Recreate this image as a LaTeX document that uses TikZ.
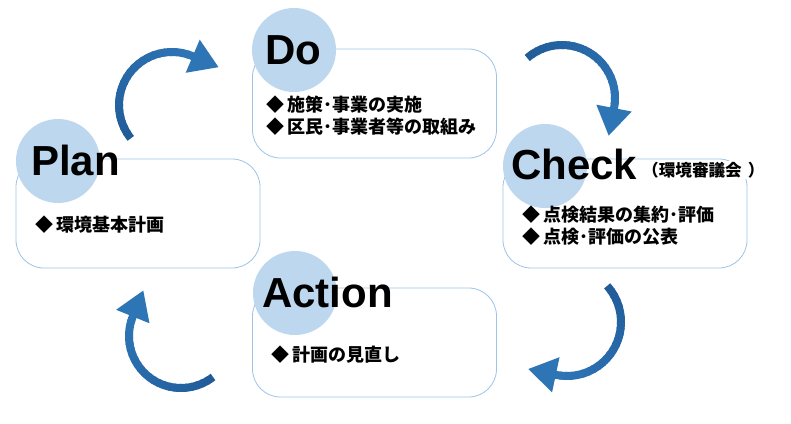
\documentclass[tikz,border=0pt]{standalone}
\usepackage{fontspec}
\setmainfont{Liberation Sans}
\newfontfamily\jp{Noto Sans CJK JP}
\usetikzlibrary{calc}
\definecolor{boxline}{HTML}{9DC3E6}
\definecolor{circfill}{HTML}{BDD7EE}
\definecolor{arrowdark}{HTML}{215C99}
\definecolor{arrowlight}{HTML}{2E75B6}
\newcommand\dia{◆\hspace{3.5pt}}
% cycle arrow: #1 name, #2 centre, #3 start angle, #4 end angle, #5 radius
\newcommand\cycarrow[5]{%
  \coordinate (#1) at (#2);
  \foreach \k in {0,...,23}{%
    \pgfmathsetmacro\sa{#3+(#4-#3)*\k/24}%
    \pgfmathsetmacro\ea{#3+(#4-#3)*(\k+1.3)/24}%
    \pgfmathsetmacro\mix{100-\k*100/23}%
    \draw[cycseg, color=arrowdark!\mix!arrowlight] (#1) ++(\sa:#5) arc[start angle=\sa, end angle=\ea, radius=#5];
  }%
  \fill[arrowlight] ($(#1)+(#4:#5+18)$) -- ($(#1)+(#4:#5-18)$) -- ($(#1)+(#4:#5)+(#4+90:28)$) -- cycle;
}
\begin{document}
\begin{tikzpicture}[x=1pt,y=-1pt,
  stagebox/.style={draw=boxline, line width=0.8pt, rounded corners=28pt, minimum width=244pt, minimum height=109pt, inner sep=0pt},
  badge/.style={circle, fill=circfill, minimum size=84pt, inner sep=0pt},
  title/.style={anchor=base west, inner sep=0pt, font=\fontsize{42}{42}\selectfont\bfseries},
  item/.style={anchor=west, inner sep=0pt, font=\jp\fontsize{18}{22}\selectfont\bfseries},
  sub/.style={anchor=west, inner sep=1pt, fill=white, font=\jp\fontsize{16.6}{18}\selectfont\bfseries},
  cycseg/.style={line width=8pt}
]
\useasboundingbox (0,0) rectangle (791,423);

% Plan
\node[stagebox] (planbox) at (138,213.5) {};
\node[badge] (plancirc) at (58,161) {};
\node[title] (plantitle) at (31,175) {Plan};
\node[item] (plantext) at (35,225) {\dia 環境基本計画};

% Do
\node[stagebox] (dobox) at (374.5,103.5) {};
\node[badge] (docirc) at (294,50) {};
\node[title] (dotitle) at (265,64) {Do};
\node[item] (dotext1) at (266,105) {\dia 施策･事業の実施};
\node[item] (dotext2) at (266,127) {\dia 区民･事業者等の取組み};

% Check
\node[stagebox] (checkbox) at (625,213.5) {};
\node[badge] (checkcirc) at (545,166) {};
\node[title] (checktitle) at (511,179) {Check};
\node[sub] (checksub) at (641,170) {（環境審議会\hspace{6pt}）};
\node[item] (checktext1) at (522,215) {\dia 点検結果の集約･評価};
\node[item] (checktext2) at (522,237) {\dia 点検･評価の公表};

% Action
\node[stagebox] (actionbox) at (374.5,342.5) {};
\node[badge] (actioncirc) at (295,293) {};
\node[title] (actiontitle) at (262,307) {Action};
\node[item] (actiontext) at (271,355) {\dia 計画の見直し};

% cycle arrows
\cycarrow{arrPD}{172,105}{141}{293}{53}
\cycarrow{arrDC}{562,98}{229}{371}{53}
\cycarrow{arrCA}{567,322}{-42}{102}{54}
\cycarrow{arrAP}{181,336}{52}{202}{52}
\end{tikzpicture}
\end{document}
